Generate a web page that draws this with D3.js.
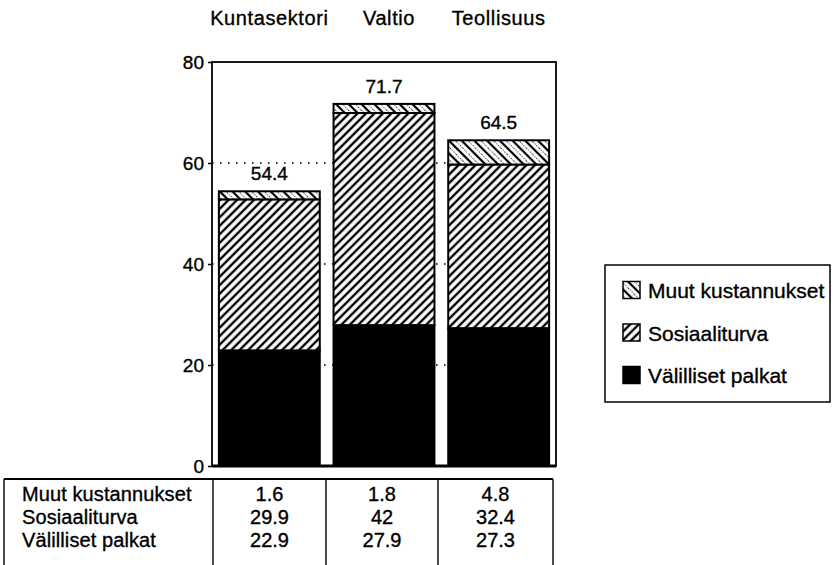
<!DOCTYPE html>
<html>
<head>
<meta charset="utf-8">
<script src="https://cdn.jsdelivr.net/npm/d3@7"></script>
<style>
  html, body { margin: 0; padding: 0; background: #fff; }
  svg { display: block; }
  text { font-family: "Liberation Sans", Arial, Helvetica, sans-serif; fill: #000; stroke: #000; stroke-width: 0.35px; }
</style>
</head>
<body>
<svg id="chart" width="833" height="565"></svg>
<script>
// ---- data ----
const categories = ["Kuntasektori", "Valtio", "Teollisuus"];
const seriesNames = ["Välilliset palkat", "Sosiaaliturva", "Muut kustannukset"];
const valValilliset = [22.9, 27.9, 27.3];
const valSosiaali = [29.9, 42, 32.4];
const valMuut = [1.6, 1.8, 4.8];
const totals = [54.4, 71.7, 64.5];
const yTicks = [0, 20, 40, 60, 80];
const gridTicks = [20, 40, 60];
const legendOrder = ["Muut kustannukset", "Sosiaaliturva", "Välilliset palkat"];

const seriesValues = {
  "Välilliset palkat": valValilliset,
  "Sosiaaliturva": valSosiaali,
  "Muut kustannukset": valMuut
};

const svg = d3.select("#chart");

// patterns
const defs = svg.append("defs");
const pSos = defs.append("pattern").attr("id", "pSos")
  .attr("patternUnits", "userSpaceOnUse").attr("width", 6).attr("height", 6)
  .attr("patternTransform", "rotate(45)");
pSos.append("rect").attr("width", 6).attr("height", 6).attr("fill", "#fff");
pSos.append("line").attr("x1", 3).attr("y1", 0).attr("x2", 3).attr("y2", 6)
  .attr("stroke", "#000").attr("stroke-width", 2.4);

const pMuut = defs.append("pattern").attr("id", "pMuut")
  .attr("patternUnits", "userSpaceOnUse").attr("width", 9).attr("height", 9)
  .attr("patternTransform", "rotate(-45)");
pMuut.append("rect").attr("width", 9).attr("height", 9).attr("fill", "#fff");
pMuut.append("line").attr("x1", 2).attr("y1", 0).attr("x2", 2).attr("y2", 9)
  .attr("stroke", "#000").attr("stroke-width", 2.2);
pMuut.append("line").attr("x1", 6.5).attr("y1", 0).attr("x2", 6.5).attr("y2", 9)
  .attr("stroke", "#000").attr("stroke-width", 0.9).attr("stroke-dasharray", "1,1.5");

const fills = {
  "Välilliset palkat": "#000",
  "Sosiaaliturva": "url(#pSos)",
  "Muut kustannukset": "url(#pMuut)"
};

// scales
const plot = { left: 212, right: 556, top: 62, bottom: 466 };
const x = d3.scaleBand().domain(categories).range([plot.left, plot.right])
  .paddingInner(0.12).paddingOuter(0.06);
const y = d3.scaleLinear().domain([0, 80]).range([plot.bottom, plot.top]);

// category labels at top
svg.append("g").selectAll("text").data(categories).join("text")
  .attr("x", d => x(d) + x.bandwidth() / 2 + (d === "Valtio" ? 5 : 0))
  .attr("y", 25)
  .attr("text-anchor", "middle")
  .attr("font-size", 20)
  .attr("letter-spacing", 0.6)
  .text(d => d);

// gridlines (dotted)
svg.append("g").selectAll("line").data(gridTicks).join("line")
  .attr("x1", plot.left).attr("x2", plot.right)
  .attr("y1", d => y(d)).attr("y2", d => y(d))
  .attr("stroke", "#000").attr("stroke-width", 1.6)
  .attr("stroke-dasharray", "1.6,6.4");

// stacked bars
const stackData = categories.map((c, i) => {
  const o = { cat: c };
  seriesNames.forEach(s => o[s] = seriesValues[s][i]);
  return o;
});
const stack = d3.stack().keys(seriesNames)(stackData);

const barG = svg.append("g");
stack.forEach(layer => {
  barG.append("g").selectAll("rect").data(layer).join("rect")
    .attr("x", d => x(d.data.cat))
    .attr("width", x.bandwidth())
    .attr("y", d => y(d[1]))
    .attr("height", d => y(d[0]) - y(d[1]))
    .attr("fill", fills[layer.key])
    .attr("stroke", "#000")
    .attr("stroke-width", 2);
});

// totals labels
svg.append("g").selectAll("text").data(categories).join("text")
  .attr("x", d => x(d) + x.bandwidth() / 2)
  .attr("y", (d, i) => y(totals[i]) - 11)
  .attr("text-anchor", "middle")
  .attr("font-size", 19)
  .text((d, i) => totals[i]);

// frame
svg.append("rect")
  .attr("x", plot.left).attr("y", plot.top)
  .attr("width", plot.right - plot.left).attr("height", plot.bottom - plot.top)
  .attr("fill", "none").attr("stroke", "#000").attr("stroke-width", 1.8);
svg.append("line").attr("x1", plot.left).attr("x2", plot.right)
  .attr("y1", plot.bottom).attr("y2", plot.bottom)
  .attr("stroke", "#000").attr("stroke-width", 3);

// y axis
const yAxis = d3.axisLeft(y).tickValues(yTicks).tickSize(4).tickPadding(4).tickFormat(d3.format("d"));
const ya = svg.append("g").attr("transform", `translate(${plot.left},0)`).call(yAxis);
ya.select(".domain").remove();
ya.selectAll(".tick line").attr("stroke", "#000").attr("stroke-width", 1.5);
ya.selectAll(".tick text").attr("font-size", 19)
  .attr("font-family", '"Liberation Sans", Arial, sans-serif').attr("fill", "#000");

// legend
const lg = svg.append("g");
lg.append("rect").attr("x", 605).attr("y", 265).attr("width", 225).attr("height", 137)
  .attr("fill", "none").attr("stroke", "#000").attr("stroke-width", 1.5);
const legendY = d3.scalePoint().domain(legendOrder).range([290, 375]);
legendOrder.forEach(s => {
  lg.append("rect").attr("x", 623).attr("y", legendY(s) - 8.5)
    .attr("width", 17).attr("height", 17)
    .attr("fill", fills[s]).attr("stroke", "#000").attr("stroke-width", 1.5);
  lg.append("text").attr("x", 648).attr("y", legendY(s) + 8)
    .attr("font-size", 21).attr("letter-spacing", 0).text(s);
});

// data table
const tbl = svg.append("g");
const colEdges = [4, 213, 326, 438, 553];
tbl.append("line").attr("x1", colEdges[0]).attr("x2", colEdges[4])
  .attr("y1", 479).attr("y2", 479).attr("stroke", "#000").attr("stroke-width", 1.8);
colEdges.forEach(cx => {
  tbl.append("line").attr("x1", cx).attr("x2", cx).attr("y1", 479).attr("y2", 565)
    .attr("stroke", "#000").attr("stroke-width", 1.4);
});
const rowY = d3.scalePoint().domain(legendOrder).range([501, 547]);
legendOrder.forEach(s => {
  tbl.append("text").attr("x", 22).attr("y", rowY(s))
    .attr("font-size", 20).attr("letter-spacing", 0.1).text(s);
  categories.forEach((c, i) => {
    tbl.append("text")
      .attr("x", (colEdges[i + 1] + colEdges[i + 2]) / 2)
      .attr("y", rowY(s))
      .attr("text-anchor", "middle")
      .attr("font-size", 20)
      .text(seriesValues[s][i]);
  });
});
</script>
</body>
</html>
